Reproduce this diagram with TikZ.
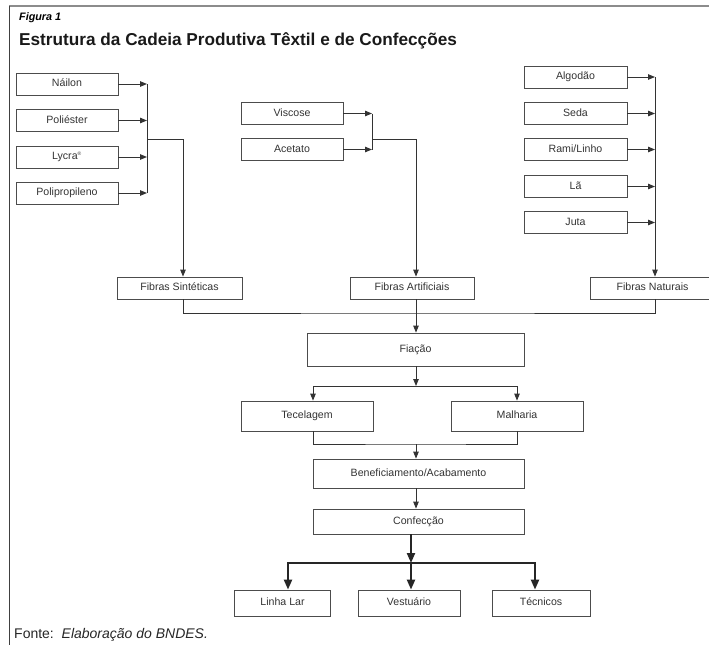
\documentclass[tikz,border=0pt]{standalone}
\usepackage{fontspec}
\setmainfont{Liberation Sans}
\usetikzlibrary{arrows.meta}

\tikzset{
    caixa/.style={draw=black!70, line width=0.8pt, inner sep=0pt, minimum height=22pt,
        font=\fontsize{10.6}{12}\selectfont, text=black!80, text height=7pt, text depth=2pt},
    liga/.style={draw=black!80, line width=0.9pt},
    grossa/.style={draw=black!85, line width=2.2pt, -{Triangle[length=10pt,width=8pt]}}
}

\begin{document}
\begin{tikzpicture}[x=1pt, y=-1pt, >={Triangle[length=7pt,width=5.5pt]}]
    \useasboundingbox (0,0) rectangle (709,645);
    \draw[black!45, line width=1.6pt] (9,6) -- (709,6);
    \draw[black!75, line width=0.8pt] (9.5,6) -- (9.5,645);

    \node[anchor=west, inner sep=0pt, font=\fontsize{10.8}{12}\selectfont\bfseries\itshape] (fig) at (19,18) {Figura 1};
    \node[anchor=west, inner sep=0pt, font=\fontsize{17.2}{20}\selectfont\bfseries, text=black!90] (titulo) at (19,41)
        {Estrutura da Cadeia Produtiva Têxtil e de Confecções};

    % fibras sinteticas
    \node[caixa, minimum width=102pt] (nailon) at (67,84) {Náilon};
    \node[caixa, minimum width=102pt] (poliester) at (67,120.5) {Poliéster};
    \node[caixa, minimum width=102pt] (lycra) at (67,157) {Lycra\textsuperscript{\tiny ®}};
    \node[caixa, minimum width=102pt] (polipro) at (67,193) {Polipropileno};

    % fibras artificiais
    \node[caixa, minimum width=102pt] (viscose) at (292,113.5) {Viscose};
    \node[caixa, minimum width=102pt] (acetato) at (292,149.5) {Acetato};

    % fibras naturais
    \node[caixa, minimum width=103pt] (algodao) at (575.5,77) {Algodão};
    \node[caixa, minimum width=103pt] (seda) at (575.5,113.5) {Seda};
    \node[caixa, minimum width=103pt] (rami) at (575.5,149.5) {Rami/Linho};
    \node[caixa, minimum width=103pt] (la) at (575.5,186.5) {Lã};
    \node[caixa, minimum width=103pt] (juta) at (575.5,222.5) {Juta};

    \node[caixa, minimum width=125pt] (fs) at (179.5,288) {Fibras Sintéticas};
    \node[caixa, minimum width=124pt] (fa) at (412,288) {Fibras Artificiais};
    \node[caixa, minimum width=125pt] (fn) at (652.5,288) {Fibras Naturais};

    \node[caixa, minimum width=217pt, minimum height=33pt] (fiacao) at (415.5,349.5) {Fiação};
    \node[caixa, minimum width=132pt, minimum height=30pt] (tecelagem) at (307,416) {Tecelagem};
    \node[caixa, minimum width=132pt, minimum height=30pt] (malharia) at (517,416) {Malharia};
    \node[caixa, minimum width=211pt, minimum height=29pt] (benef) at (418.5,473.5) {Beneficiamento/Acabamento};
    \node[caixa, minimum width=211pt, minimum height=25pt] (confec) at (418.5,521.5) {Confecção};

    \node[caixa, minimum width=96pt, minimum height=26pt] (lar) at (282.5,603) {Linha Lar};
    \node[caixa, minimum width=102pt, minimum height=26pt] (vest) at (409,603) {Vestuário};
    \node[caixa, minimum width=98pt, minimum height=26pt] (tec) at (541,603) {Técnicos};

    \node[anchor=west, inner sep=0pt, font=\fontsize{14}{16}\selectfont, text=black!85] (fonte) at (14,635)
        {Fonte:\ \ \textit{Elaboração do BNDES.}};

    % juncoes
    \coordinate (bS) at (147,139);
    \coordinate (bA) at (372,139);
    \coordinate (bN) at (655,77);
    \coordinate (eixo) at (416,313);
    \coordinate (divT) at (416,386);
    \coordinate (junT) at (416,444);
    \coordinate (divC) at (411,563);

    \foreach \n in {nailon,poliester,lycra,polipro}
        \draw[liga,->] (\n.east) -- (\n.east -| bS);
    \draw[liga] (nailon.east -| bS) -- (polipro.east -| bS);
    \draw[liga,->] (bS) -| (fs.north -| 183,0);

    \foreach \n in {viscose,acetato}
        \draw[liga,->] (\n.east) -- (\n.east -| bA);
    \draw[liga] (viscose.east -| bA) -- (acetato.east -| bA);
    \draw[liga,->] (bA) -| (fa.north -| eixo);

    \foreach \n in {algodao,seda,rami,la,juta}
        \draw[liga,->] (\n.east) -- (\n.east -| bN);
    \draw[liga,->] (bN) -- (fn.north -| bN);

    \draw[liga] (fs.south -| 183,0) |- (eixo) -| (fn.south -| bN);
    \draw[liga,->] (fa.south -| eixo) -- (fiacao.north -| eixo);

    \draw[liga,->] (fiacao.south -| divT) -- (divT);
    \draw[liga,->] (divT) -| (tecelagem.north -| 313,0);
    \draw[liga,->] (divT) -| (malharia.north -| 517,0);
    \draw[liga] (tecelagem.south -| 313,0) |- (junT) -| (malharia.south -| 517,0);
    \draw[liga,->] (junT) -- (benef.north -| junT);
    \draw[liga,->] (benef.south -| junT) -- (confec.north -| junT);

    \draw[grossa] (confec.south -| divC) -- (divC);
    \draw[grossa] (divC) -- (vest.north -| divC);
    \draw[grossa] (divC) -| (lar.north -| 288,0);
    \draw[grossa] (divC) -| (tec.north -| 535,0);
\end{tikzpicture}
\end{document}
